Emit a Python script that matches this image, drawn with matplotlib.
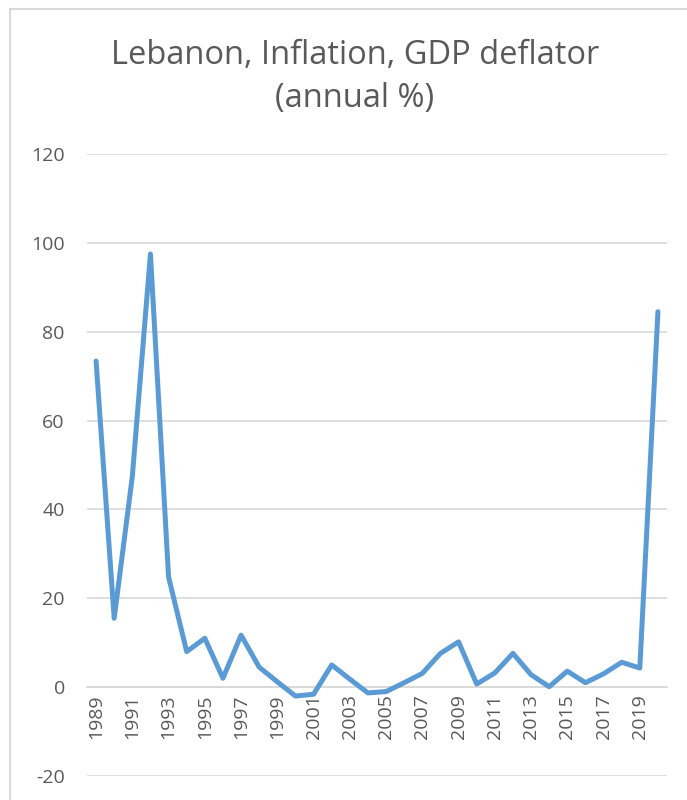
import matplotlib
matplotlib.use('Agg')
import matplotlib.pyplot as plt
from matplotlib.patches import Rectangle

# Lebanon, GDP deflator inflation (annual %)
years = list(range(1989, 2021))
inflation = [73.4, 15.5, 47.4, 97.5, 24.8, 8.0, 11.0, 2.0, 11.7, 4.5,
             1.2, -2.0, -1.6, 5.0, 1.8, -1.3, -1.0, 1.0, 3.1, 7.6,
             10.2, 0.7, 3.2, 7.6, 2.8, 0.1, 3.6, 1.0, 3.0, 5.6,
             4.3, 84.5]
y_ticks = [-20, 0, 20, 40, 60, 80, 100, 120]
x_ticks = years[::2]

title = 'Lebanon, Inflation, GDP deflator\n(annual %)'

text_color = '#595959'
grid_color = '#D9D9D9'
line_color = '#5B9BD5'

plt.rcParams['font.family'] = ['Open Sans', 'DejaVu Sans']

fig = plt.figure(figsize=(6.87, 8.0), dpi=100)
ax = fig.add_axes([87 / 687, 1 - 776 / 800, 580 / 687, 622 / 800])

# chart frame (only top/left edges visible in the crop)
fig.patches.append(Rectangle((10 / 687, -0.1), 1.2, 1 - 9 / 800 + 0.1,
                             transform=fig.transFigure, fill=False,
                             edgecolor='#D9D9D9', linewidth=1.5))

ax.plot(years, inflation, color=line_color, linewidth=3.6,
        solid_joinstyle='round', solid_capstyle='round', zorder=3)

# category axis crosses at zero (set before ticks, it resets them)
for s in ['top', 'right', 'left']:
    ax.spines[s].set_visible(False)
ax.spines['bottom'].set_position(('data', 0))
ax.spines['bottom'].set_color(grid_color)
ax.spines['bottom'].set_linewidth(1.2)

ax.set_xlim(1988.5, 2020.5)
ax.set_ylim(-20, 120)
ax.set_yticks(y_ticks)
ax.set_yticklabels([str(v) for v in y_ticks])
ax.set_xticks(x_ticks)
ax.set_xticklabels([str(v) for v in x_ticks])

ax.grid(axis='y', color=grid_color, linewidth=1.2)
ax.set_axisbelow(True)

ax.tick_params(axis='y', length=0, pad=16, labelsize=14, labelcolor=text_color)
ax.tick_params(axis='x', length=0, pad=5, labelsize=14, labelcolor=text_color,
               labelrotation=90)

fig.text(355 / 687, 1 - 77 / 800, title, ha='center', va='center',
         fontsize=23.5, color=text_color, linespacing=1.4)

fig.savefig('out.png', dpi=100)
